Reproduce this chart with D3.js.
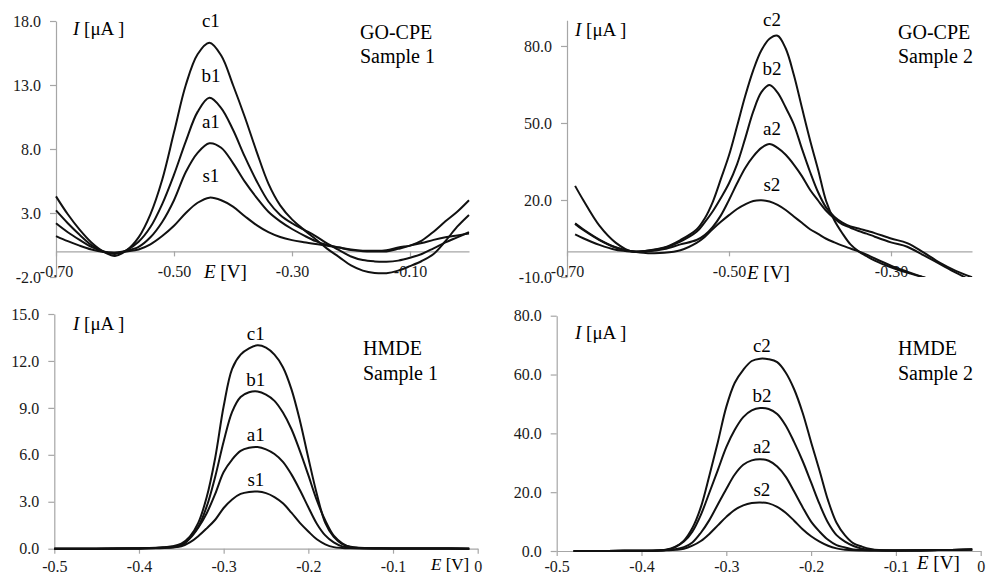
<!DOCTYPE html>
<html>
<head>
<meta charset="utf-8">
<script src="https://cdn.jsdelivr.net/npm/d3@7"></script>
<style>
  body { margin: 0; background: #fff; }
  svg { display: block; }
</style>
</head>
<body>
<svg id="chart" width="987" height="577"></svg>
<script>
// ---- data ----

// GO-CPE, sample 1
var go1E  = [-0.70,-0.68,-0.66,-0.64,-0.62,-0.60,-0.58,-0.56,-0.54,-0.52,-0.50,-0.48,-0.46,-0.44,-0.42,-0.40,-0.38,-0.36,
             -0.34,-0.32,-0.30,-0.28,-0.26,-0.24,-0.22,-0.20,-0.18,-0.16,-0.14,-0.12,-0.10,-0.08,-0.06,-0.04,-0.02,0.00];
var go1C  = [4.3,2.9,1.7,0.7,0.0,-0.35,0.1,1.1,2.9,5.6,9.3,13.0,15.4,16.3,15.3,13.0,10.5,7.8,
             5.3,3.6,2.5,1.7,0.95,0.2,-0.45,-1.1,-1.5,-1.68,-1.7,-1.5,-1.15,-0.75,-0.2,0.8,1.93,2.85];
var go1B  = [3.2,2.2,1.3,0.5,0.0,-0.2,0.1,0.75,1.9,3.7,6.0,8.6,10.9,12.0,11.2,9.5,7.4,5.5,
             3.9,2.85,2.2,1.7,1.2,0.6,0.1,-0.4,-0.68,-0.78,-0.8,-0.72,-0.5,-0.2,0.24,0.7,1.1,1.5];
var go1A  = [2.2,1.5,0.9,0.35,0.0,-0.1,0.05,0.35,1.1,2.3,4.0,6.2,7.7,8.45,8.1,6.9,5.45,4.2,
             3.1,2.35,1.75,1.25,0.8,0.5,0.3,0.1,0.02,0.0,0.0,0.2,0.45,0.85,1.54,2.35,3.1,4.0];
var go1S  = [1.2,0.8,0.45,0.15,-0.05,-0.1,0.0,0.15,0.55,1.2,2.0,3.0,3.8,4.2,4.0,3.5,2.75,2.05,
             1.5,1.12,0.88,0.72,0.58,0.45,0.3,0.15,0.06,0.05,0.1,0.3,0.45,0.65,0.9,1.1,1.25,1.4];
var go1Names  = ["c1", "b1", "a1", "s1"];
var go1XTicks = [-0.70, -0.50, -0.30, -0.10];
var go1YTicks = [-2, 3, 8, 13, 18];

// GO-CPE, sample 2
var go2E  = [-0.69,-0.68,-0.66,-0.64,-0.62,-0.60,-0.58,-0.56,-0.54,-0.53,-0.52,-0.51,-0.50,-0.49,-0.48,-0.47,-0.46,-0.45,-0.44,
             -0.43,-0.42,-0.41,-0.40,-0.39,-0.38,-0.37,-0.36,-0.35,-0.34,-0.33,-0.32,-0.30,-0.28,-0.26,-0.24,-0.22,-0.20];
var go2C  = [25.5,20.0,10.0,3.4,-0.1,0.3,1.5,4.4,8.5,12.8,19.3,28.2,37.4,48.8,60.5,70.6,78.3,82.8,84.0,
             79.0,68.8,56.0,43.4,31.8,19.5,12.1,7.0,2.7,0.0,-1.9,-3.6,-6.2,-8.3,-10.1,-11.8,-13.5,-15.0];
var go2B  = [10.9,8.6,4.6,1.6,0.0,0.2,1.3,3.8,7.6,11.3,15.6,20.8,26.5,34.0,44.0,54.5,62.0,64.8,61.8,
             56.0,49.5,40.0,31.0,23.0,17.0,13.5,11.2,9.7,8.9,8.0,7.1,5.0,3.2,-0.4,-4.4,-7.6,-10.1];
var go2A  = [10.7,8.3,4.4,1.5,0.0,0.0,0.9,2.7,4.4,6.3,9.5,14.0,20.0,26.5,32.5,37.0,40.3,41.8,40.3,
             37.6,33.8,29.3,24.0,19.8,15.8,12.8,10.5,9.2,7.9,6.9,5.7,3.5,1.8,-1.5,-4.9,-8.3,-11.5];
var go2S  = [6.6,5.1,2.5,0.6,-0.1,-0.7,-0.6,0.4,3.3,5.6,8.7,11.5,14.1,16.5,18.3,19.6,19.9,19.4,18.1,
             16.1,13.6,11.1,8.6,6.8,4.9,3.5,2.2,1.1,0.0,-1.3,-2.8,-5.6,-7.9,-10.1,-12.3,-14.5,-16.5];
var go2Names  = ["c2", "b2", "a2", "s2"];
var go2XTicks = [-0.70, -0.50, -0.30];
var go2YTicks = [-10, 20, 50, 80];

// HMDE, sample 1
var hm1E  = [-0.50,-0.45,-0.42,-0.40,-0.38,-0.37,-0.36,-0.35,-0.34,-0.33,-0.32,-0.31,-0.30,-0.29,-0.28,-0.27,-0.26,
             -0.25,-0.24,-0.23,-0.22,-0.21,-0.20,-0.19,-0.18,-0.17,-0.16,-0.15,-0.14,-0.12,-0.10,-0.05,-0.01];
var hm1C  = [0.0,0.0,0.02,0.03,0.06,0.1,0.15,0.32,0.77,1.65,3.3,5.8,9.1,11.5,12.4,12.8,13.0,
             12.85,12.4,11.6,10.2,8.2,5.8,3.5,1.65,0.75,0.3,0.12,0.06,0.03,0.02,0.01,0.0];
var hm1B  = [0.0,0.0,0.01,0.02,0.05,0.08,0.12,0.25,0.7,1.4,2.7,4.6,6.85,8.75,9.7,10.0,10.05,
             9.85,9.45,8.7,7.65,6.25,4.7,3.1,1.8,0.83,0.35,0.1,0.05,0.03,0.02,0.01,0.0];
var hm1A  = [0.0,0.0,0.01,0.02,0.04,0.06,0.1,0.2,0.65,1.35,2.27,3.5,4.9,5.7,6.25,6.45,6.5,
             6.35,6.05,5.55,4.75,3.75,2.65,1.6,0.85,0.4,0.15,0.07,0.04,0.02,0.02,0.01,0.0];
var hm1S  = [0.0,0.0,0.01,0.02,0.03,0.05,0.08,0.15,0.4,0.8,1.3,1.85,2.6,3.15,3.5,3.63,3.65,
             3.55,3.3,2.9,2.3,1.65,1.1,0.6,0.28,0.1,0.05,0.03,0.02,0.02,0.01,0.01,0.0];
var hm1Names  = ["c1", "b1", "a1", "s1"];
var hm1XTicks = [-0.5, -0.4, -0.3, -0.2, -0.1, 0];
var hm1YTicks = [0, 3, 6, 9, 12, 15];

// HMDE, sample 2
var hm2E  = [-0.48,-0.45,-0.42,-0.40,-0.38,-0.37,-0.36,-0.35,-0.34,-0.33,-0.32,-0.31,-0.30,-0.29,-0.28,-0.27,-0.26,
             -0.25,-0.24,-0.23,-0.22,-0.21,-0.20,-0.19,-0.18,-0.17,-0.16,-0.15,-0.14,-0.13,-0.12,-0.10,-0.05,-0.01];
var hm2C  = [0.0,0.0,0.05,0.1,0.15,0.4,1.3,3.5,7.8,14.9,25.6,37.0,49.0,57.2,61.6,64.6,65.4,
             65.2,64.2,60.7,55.0,47.0,37.0,27.3,17.2,9.6,5.3,2.6,1.5,0.7,0.3,0.15,0.3,0.5];
var hm2B  = [0.0,0.0,0.05,0.1,0.2,0.5,1.5,3.2,6.6,12.3,19.8,27.5,35.3,41.2,45.5,47.8,48.6,
             48.3,46.6,42.7,37.0,30.6,23.3,15.9,9.6,5.4,3.2,1.7,0.8,0.45,0.25,0.15,0.3,0.5];
var hm2A  = [0.0,0.0,0.05,0.1,0.2,0.35,0.6,1.3,2.9,6.2,10.5,15.8,21.1,26.0,29.3,30.8,31.2,
             30.7,28.7,25.3,20.2,14.9,10.0,6.6,3.8,2.0,1.2,0.5,0.3,0.2,0.15,0.15,0.3,0.5];
var hm2S  = [0.0,0.0,0.05,0.1,0.15,0.25,0.4,0.75,1.8,3.4,5.8,8.7,11.6,14.0,15.5,16.3,16.5,
             16.2,15.0,13.0,10.3,7.4,5.0,3.2,1.8,0.9,0.45,0.25,0.2,0.15,0.15,0.15,0.3,0.5];
var hm2Names  = ["c2", "b2", "a2", "s2"];
var hm2XTicks = [-0.5, -0.4, -0.3, -0.2, -0.1, 0];
var hm2YTicks = [0, 20, 40, 60, 80];

// ---- layout ----
var FONT = "'Liberation Serif', 'Times New Roman', serif";
var AXIS_GREY = "#a6a6a6";

var panels = [
  { E: go1E, series: [go1C, go1B, go1A, go1S], names: go1Names,
    xDomain: [-0.70, 0], xRange: [56, 469], yDomain: [-2, 18], yRange: [277, 21],
    xTicks: go1XTicks, yTicks: go1YTicks, xDigits: 2, xLabelY: 272, clip: true,
    labelE: -0.4375, labelGap: 22, xTitleSize: 19,
    yTitle: [73, 28], xTitle: [204, 271], title: ["GO-CPE", "Sample 1"], titleX: 360, titleY: [32, 56] },
  { E: go2E, series: [go2C, go2B, go2A, go2S], names: go2Names,
    xDomain: [-0.70, -0.20], xRange: [567, 972], yDomain: [-10, 90], yRange: [277, 20.3],
    xTicks: go2XTicks, yTicks: go2YTicks, xDigits: 2, xLabelY: 272, clip: true,
    labelE: -0.447, labelGap: 16, xTitleSize: 19,
    yTitle: [575, 29], xTitle: [747, 272], title: ["GO-CPE", "Sample 2"], titleX: 898, titleY: [32, 56] },
  { E: hm1E, series: [hm1C, hm1B, hm1A, hm1S], names: hm1Names,
    xDomain: [-0.5, 0], xRange: [54.3, 477.7], yDomain: [0, 15], yRange: [548.7, 314],
    xTicks: hm1XTicks, yTicks: hm1YTicks, xDigits: 1, xLabelY: 567, clip: false,
    labelE: -0.262, labelGap: 12, xTitleSize: 17,
    yTitle: [73, 323], xTitle: [431, 564], title: ["HMDE", "Sample 1"], titleX: 363, titleY: [348, 373] },
  { E: hm2E, series: [hm2C, hm2B, hm2A, hm2S], names: hm2Names,
    xDomain: [-0.5, 0], xRange: [556.7, 980.7], yDomain: [0, 80], yRange: [551, 315.7],
    xTicks: hm2XTicks, yTicks: hm2YTicks, xDigits: 1, xLabelY: 567, clip: false,
    labelE: -0.258, labelGap: 13, xTitleSize: 19,
    yTitle: [575, 332], xTitle: [917, 562], title: ["HMDE", "Sample 2"], titleX: 898, titleY: [348, 373] }
];

var svg = d3.select("#chart");
svg.append("rect").attr("width", 987).attr("height", 577).attr("fill", "#fff");

function styleAxis(g) {
  g.attr("font-family", FONT).attr("font-size", 16);
  g.select(".domain").attr("stroke", AXIS_GREY).attr("stroke-width", 1.2);
  g.selectAll(".tick line").attr("stroke", AXIS_GREY).attr("stroke-width", 1.2);
  g.selectAll(".tick text").attr("fill", "#1a1a1a");
}

panels.forEach(function(p, k) {
  var x = d3.scaleLinear().domain(p.xDomain).range(p.xRange);
  var y = d3.scaleLinear().domain(p.yDomain).range(p.yRange);
  var g = svg.append("g");

  // y axis
  var yAxis = d3.axisLeft(y).tickValues(p.yTicks).tickSize(6).tickSizeOuter(0)
    .tickFormat(function(d) { return d.toFixed(1); });
  var gy = g.append("g").attr("transform", "translate(" + p.xRange[0] + ",0)").call(yAxis);
  styleAxis(gy);
  gy.selectAll(".tick text").attr("x", -15);

  // x axis sits on I = 0, labels at the bottom of the plot
  var y0 = y(0);
  var xAxis = d3.axisBottom(x).tickValues(p.xTicks).tickSize(5).tickSizeOuter(0)
    .tickFormat(function(d) { return d === 0 ? "0" : d.toFixed(p.xDigits); });
  var gx = g.append("g").attr("transform", "translate(0," + y0 + ")").call(xAxis);
  styleAxis(gx);
  gx.selectAll(".tick text").attr("y", p.xLabelY - y0).attr("dy", "0.32em");

  // curves
  var clipId = "clip" + k;
  if (p.clip) {
    g.append("clipPath").attr("id", clipId).append("rect")
      .attr("x", p.xRange[0] - 2).attr("y", p.yRange[1] - 4)
      .attr("width", p.xRange[1] - p.xRange[0] + 4)
      .attr("height", p.yRange[0] - p.yRange[1] + 4);
  }
  var line = d3.line()
    .x(function(d, i) { return x(p.E[i]); })
    .y(function(d) { return y(d); })
    .curve(d3.curveCatmullRom.alpha(0.5));

  var gl = g.append("g");
  if (p.clip) gl.attr("clip-path", "url(#" + clipId + ")");
  gl.selectAll("path").data(p.series).enter().append("path")
    .attr("d", line)
    .attr("fill", "none")
    .attr("stroke", "#111")
    .attr("stroke-width", 2)
    .attr("stroke-linejoin", "round");

  // curve names above each peak
  g.selectAll("text.name").data(p.series).enter().append("text")
    .attr("class", "name")
    .attr("x", x(p.labelE))
    .attr("y", function(s) { return y(d3.max(s)) - p.labelGap; })
    .attr("text-anchor", "middle")
    .attr("dominant-baseline", "central")
    .attr("font-family", FONT).attr("font-size", 19).attr("fill", "#000")
    .text(function(s, i) { return p.names[i]; });

  // axis titles
  var ty = g.append("text").attr("x", p.yTitle[0]).attr("y", p.yTitle[1])
    .attr("dominant-baseline", "central")
    .attr("font-family", FONT).attr("font-size", 19).attr("fill", "#000");
  ty.append("tspan").attr("font-style", "italic").text("I");
  ty.append("tspan").text(" [\u03bcA ]");

  var tx = g.append("text").attr("x", p.xTitle[0]).attr("y", p.xTitle[1])
    .attr("dominant-baseline", "central")
    .attr("font-family", FONT).attr("font-size", p.xTitleSize).attr("fill", "#000");
  tx.append("tspan").attr("font-style", "italic").text("E");
  tx.append("tspan").text(" [V]");

  // panel title
  p.title.forEach(function(t, i) {
    g.append("text").attr("x", p.titleX).attr("y", p.titleY[i])
      .attr("dominant-baseline", "central")
      .attr("font-family", FONT).attr("font-size", 20).attr("fill", "#000")
      .text(t);
  });
});
</script>
</body>
</html>
